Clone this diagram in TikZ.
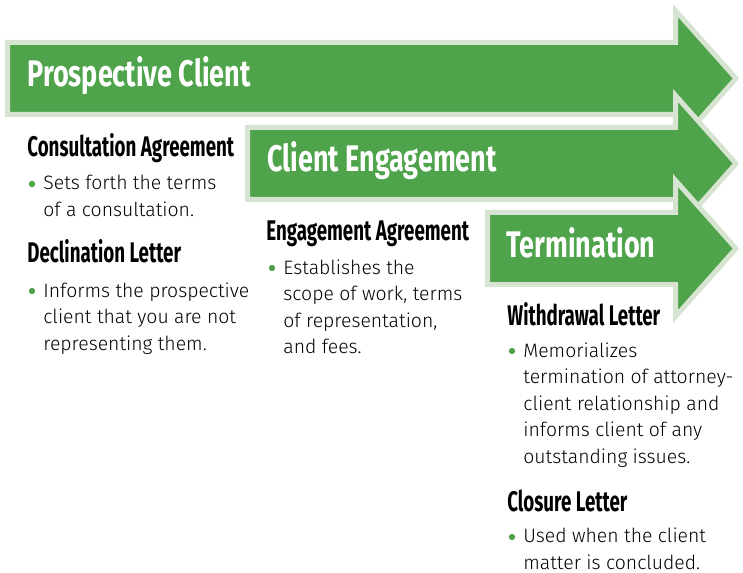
\documentclass[tikz,border=0pt]{standalone}
\usepackage{fontspec}
\setmainfont{Fira Sans}[UprightFont=* Light]
\newfontfamily\stagefont[FakeStretch=0.73]{Fira Sans}
\newfontfamily\titlefont[FakeStretch=0.66]{Fira Sans}
\usetikzlibrary{positioning}
\definecolor{leaf}{HTML}{4FA34B}
\definecolor{rim}{HTML}{D8E4D2}

\begin{document}
\begin{tikzpicture}[x=0.5pt,y=-0.5pt,
  stage/.style={font=\stagefont\bfseries\fontsize{18.5}{20}\selectfont,text=white,anchor=base west,inner sep=0pt},
  title/.style={font=\titlefont\bfseries\fontsize{14.2}{15}\selectfont,anchor=base west,inner sep=0pt},
  body/.style={font=\fontsize{9.7}{13.25}\selectfont,align=left,anchor=base west,inner sep=0pt},
  dot/.style={circle,fill=leaf,inner sep=0pt,minimum size=3.2pt}]
\useasboundingbox (0,0) rectangle (743,572);
% arrows
\foreach \x/\y in {7.5/78.5,247.5/163.5,487.5/248.5}
  \filldraw[fill=leaf,draw=rim,line width=2.5pt]
    (\x,\y-36) -- (675.5,\y-36) -- (675.5,\y-68) -- (736,\y) -- (675.5,\y+68) -- (675.5,\y+36) -- (\x,\y+36) -- cycle;
\node[stage] (pc) at (27,87) {Prospective Client};
\node[stage] (ce) at (267,172) {Client Engagement};
\node[stage] (tm) at (506,257) {Termination};

% first column (body nodes sit on their last line)
\node[title] (consult) at (27,157) {Consultation Agreement};
\node[body] (sets) at (43,216.5) {Sets forth the terms\\of a consultation.};
\node[dot] (d1) at (32,184) {};
\node[title] (decline) at (27,262) {Declination Letter};
\node[body] (informs) at (43,350) {Informs the prospective\\client that you are not\\representing them.};
\node[dot] (d2) at (32,291) {};

% second column
\node[title] (engage) at (266,241) {Engagement Agreement};
\node[body] (establishes) at (283,353.5) {Establishes the\\scope of work, terms\\of representation,\\and fees.};
\node[dot] (d3) at (272,268) {};

% third column
\node[title] (withdraw) at (507,325) {Withdrawal Letter};
\node[body] (memo) at (523,463) {Memorializes\\termination of attorney-\\client relationship and\\informs client of any\\outstanding issues.};
\node[dot] (d4) at (512,351) {};
\node[title] (closure) at (507,511) {Closure Letter};
\node[body] (used) at (523,569) {Used when the client\\matter is concluded.};
\node[dot] (d5) at (512,537) {};
\end{tikzpicture}
\end{document}
